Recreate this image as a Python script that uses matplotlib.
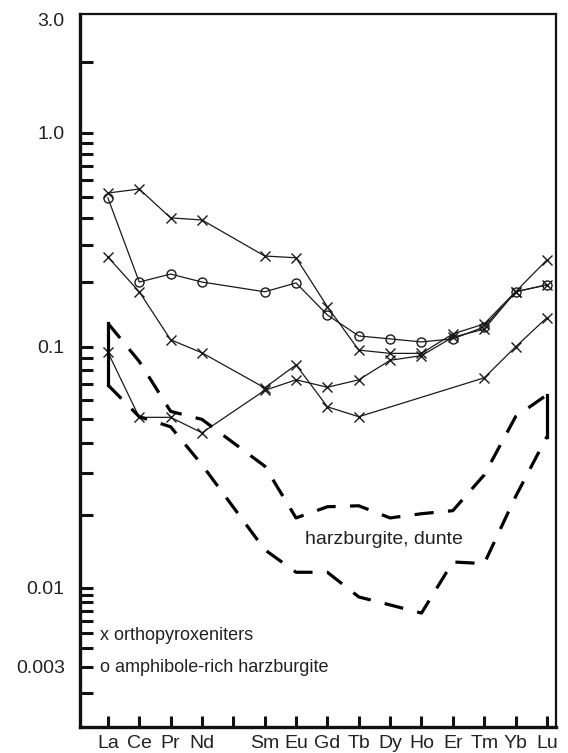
import numpy as np
import matplotlib.pyplot as plt

plt.rcParams['font.family'] = ['Liberation Sans', 'DejaVu Sans']

# REE order (Pm left blank)
elements = ['La', 'Ce', 'Pr', 'Nd', '', 'Sm', 'Eu', 'Gd', 'Tb', 'Dy', 'Ho', 'Er', 'Tm', 'Yb', 'Lu']
ree_pos = [0, 1, 2, 3, 5, 6, 7, 8, 9, 10, 11, 12, 13, 14]

# orthopyroxeniters (x)
opx1 = [0.524, 0.547, 0.401, 0.392, 0.266, 0.261, 0.154, 0.097, 0.094, 0.094, 0.115, 0.128, 0.181, 0.255]
opx3 = [0.095, 0.051, 0.051, 0.044, 0.066, 0.073, 0.068, 0.073, 0.088, 0.092, 0.111, 0.121, 0.181, 0.195]
opx2_pos = [0, 1, 2, 3, 5, 6, 7, 8, 12, 13, 14]
opx2 = [0.263, 0.181, 0.108, 0.0945, 0.0676, 0.0842, 0.0564, 0.0513, 0.0744, 0.100, 0.137]

# amphibole-rich harzburgite (o)
amph = [0.497, 0.201, 0.219, 0.201, 0.181, 0.199, 0.141, 0.1125, 0.109, 0.1055, 0.109, 0.124, 0.181, 0.195]

# harzburgite, dunite field (dashed envelope)
hz_upper = [0.129, 0.087, 0.054, 0.050, 0.032, 0.0195, 0.0217, 0.0219, 0.0195, 0.0203, 0.0209, 0.0294, 0.0513, 0.0632]
hz_lower = [0.0695, 0.0513, 0.0466, 0.0324, 0.0144, 0.0116, 0.0116, 0.0087, 0.0077, 0.0068, 0.0128, 0.0126, 0.0239, 0.0424]

# hand drawn log axis: decades are not equally long
knot_log = np.array([-3.5, -2.523, -2.0, -1.0, 0.0, 0.477, 1.0])
knot_pos = -np.array([815, 667, 588, 347, 133, 20, -104], dtype=float)


def fwd(y):
    return np.interp(np.log10(np.clip(y, 1e-12, None)), knot_log, knot_pos)


def inv(v):
    return 10 ** np.interp(v, knot_pos, knot_log)


fig = plt.figure(figsize=(5.68, 7.53), dpi=100)
ax = fig.add_axes([80 / 568, 1 - 727 / 753, 476 / 568, 713 / 753])
ax.set_yscale('function', functions=(fwd, inv))

lc = '#1a1a1a'
ax.plot(ree_pos, opx1, '-', color=lc, lw=0.9, marker='x', ms=7.5, mew=1.0)
ax.plot(ree_pos, opx3, '-', color=lc, lw=0.9, marker='x', ms=7.5, mew=1.0)
ax.plot(opx2_pos, opx2, '-', color=lc, lw=0.9, marker='x', ms=7.5, mew=1.0)
ax.plot(ree_pos, amph, '-', color=lc, lw=0.9, marker='o', ms=6.5, mew=1.0, mfc='none')

ax.plot(ree_pos, hz_upper, color='black', lw=2.3, dashes=(6, 4.5))
ax.plot(ree_pos, hz_lower, color='black', lw=2.3, dashes=(6, 4.5))
ax.plot([ree_pos[0], ree_pos[0]], [hz_upper[0], hz_lower[0]], color='black', lw=2.3)
ax.plot([ree_pos[-1], ree_pos[-1]], [hz_upper[-1], hz_lower[-1]], color='black', lw=2.3)

ax.text(6.28, 0.0158, 'harzburgite, dunte', fontsize=14, color='#222222', va='center', ha='left')
ax.text(-0.25, 0.0048, 'x orthopyroxeniters', fontsize=13, color='#222222', va='center', ha='left')
ax.text(-0.25, 0.00295, 'o amphibole-rich harzburgite', fontsize=13, color='#222222', va='center', ha='left')

ax.set_xlim(-0.89, 14.29)
ax.set_ylim(0.00120, 3.18)

ax.set_xticks(range(len(elements)))
ax.set_xticklabels(elements)
majors = [0.003, 0.01, 0.1, 1.0, 3.0]
ax.set_yticks(majors)
ax.set_yticklabels(['0.003', '0.01', '0.1', '1.0', '3.0'])
minors = [k * 10.0 ** d for d in (-3, -2, -1, 0) for k in range(2, 10)]
minors = [m for m in minors if 0.00120 < m < 3.0 and abs(m - 0.003) > 1e-9]
ax.set_yticks(minors, minor=True)
ax.yaxis.get_major_ticks()[4].tick1line.set_visible(False)

ax.tick_params(axis='y', which='both', direction='in', length=9, width=2.2,
               labelsize=14, pad=11, colors='#111111', labelcolor='#222222')
ax.tick_params(axis='x', direction='in', length=8, width=2.2,
               labelsize=14, pad=6, colors='#111111', labelcolor='#222222')
ax.tick_params(top=False, right=False)

for s in ['left', 'bottom']:
    ax.spines[s].set_linewidth(2.4)
for s in ['top', 'right']:
    ax.spines[s].set_linewidth(1.6)
for s in ax.spines.values():
    s.set_color('#111111')

fig.savefig('out.png', dpi=100)
